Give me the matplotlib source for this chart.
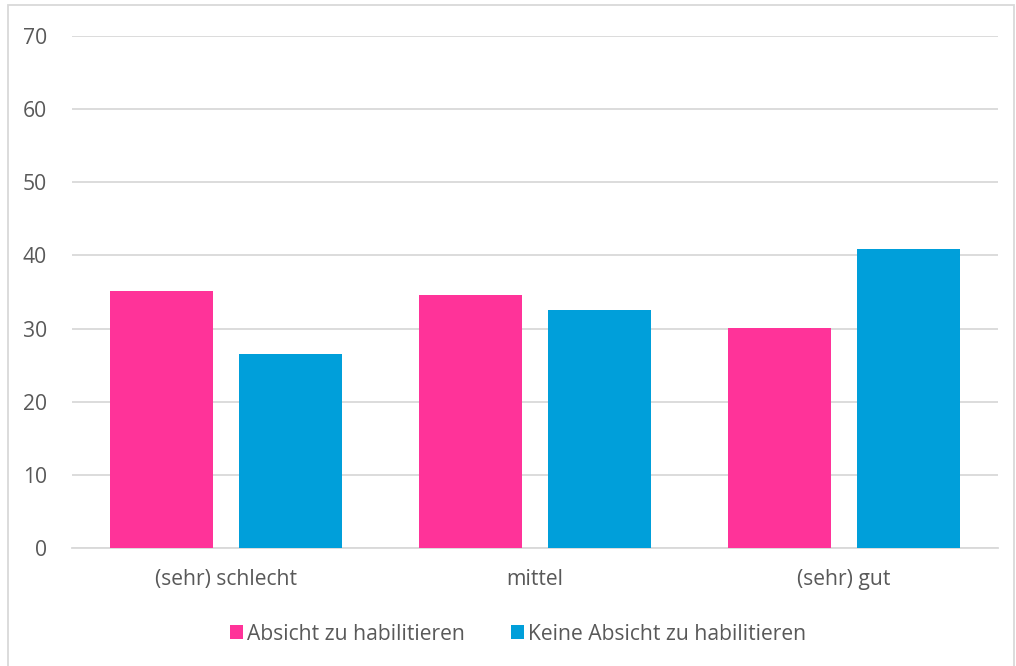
import numpy as np
import matplotlib
matplotlib.use("Agg")
import matplotlib.pyplot as plt
from matplotlib.patches import Rectangle

categories = ["(sehr) schlecht", "mittel", "(sehr) gut"]
absicht = [35.2, 34.6, 30.1]
keine_absicht = [26.5, 32.5, 40.9]
series_names = ["Absicht zu habilitieren", "Keine Absicht zu habilitieren"]
yticks = [0, 10, 20, 30, 40, 50, 60, 70]

plt.rcParams['font.family'] = ['Open Sans', 'DejaVu Sans']
text_color = '#595959'
grid_color = '#d9d9d9'
fsize = 15.2

fig = plt.figure(figsize=(10.16, 6.66), dpi=100)
ax = fig.add_axes([72 / 1016, 1 - 548 / 666, (998 - 72) / 1016, (548 - 36) / 666])

x = np.arange(len(categories))
width = 0.334
offset = 0.209
ax.bar(x - offset, absicht, width, color='#ff3399', label=series_names[0], zorder=3)
ax.bar(x + offset, keine_absicht, width, color='#009fda', label=series_names[1], zorder=3)

ax.set_xlim(-0.5, 2.5)
ax.set_ylim(0, 70)
ax.set_yticks(yticks)
ax.set_xticks(x)
ax.set_xticklabels(categories)
ax.yaxis.grid(True, color=grid_color, linewidth=1.3, zorder=0)
for side in ['top', 'right', 'left']:
    ax.spines[side].set_visible(False)
ax.spines['bottom'].set_color(grid_color)
ax.spines['bottom'].set_linewidth(1.3)
ax.tick_params(axis='both', length=0, labelsize=fsize, colors=text_color)
ax.tick_params(axis='y', pad=18)
ax.tick_params(axis='x', pad=15)

leg = fig.legend(loc='center', bbox_to_anchor=(518 / 1016, 1 - 634 / 666), ncol=2,
                 frameon=False, fontsize=fsize, handlelength=0.6, handleheight=0.6,
                 handletextpad=0.2, columnspacing=2.2)
for t in leg.get_texts():
    t.set_color(text_color)

# outer chart border
fig.patches.append(Rectangle((8 / 1016, -0.01), 1006 / 1016, 1 - 5 / 666 + 0.01,
                             transform=fig.transFigure, fill=False,
                             edgecolor='#d9d9d9', linewidth=1.3))

fig.savefig("out.png", dpi=100)
